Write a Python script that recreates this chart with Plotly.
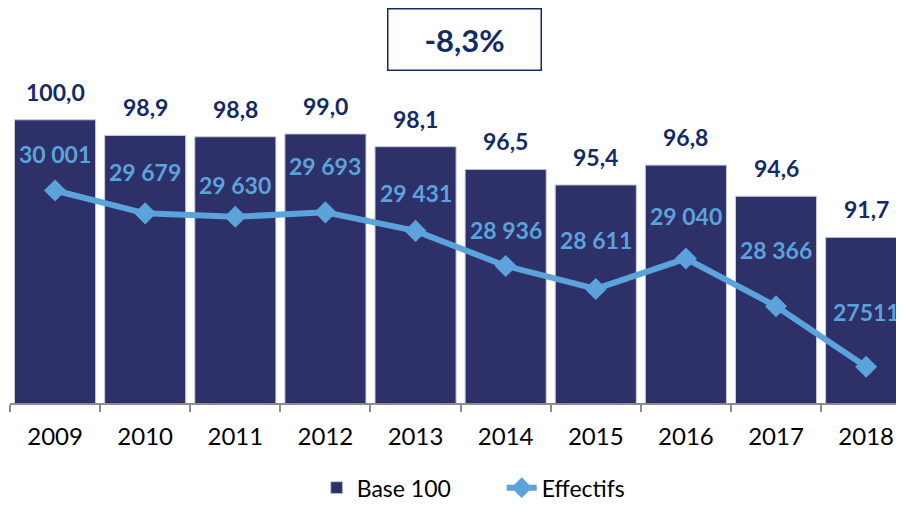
import plotly.graph_objects as go

years = ["2009", "2010", "2011", "2012", "2013", "2014", "2015", "2016", "2017", "2018"]
base100 = [100.0, 98.9, 98.8, 99.0, 98.1, 96.5, 95.4, 96.8, 94.6, 91.7]
effectifs = [30001, 29679, 29630, 29693, 29431, 28936, 28611, 29040, 28366, 27511]
effectifs_labels = ["30 001", "29 679", "29 630", "29 693", "29 431", "28 936", "28 611", "29 040", "28 366", "27511"]
variation = "-8,3%"

# label offsets above the line points (px), as placed in the original
label_shift = [37, 41, 32, 46, 38, 36, 49, 43, 56, 55]

NAVY = "#2D3069"
LABEL_NAVY = "#132A66"
LIGHT = "#5BA3DA"
FONT = "Lato"

fig = go.Figure()
fig.add_trace(go.Bar(x=years, y=base100, name="Base 100",
                     marker=dict(color=NAVY, line=dict(color="#C9CCD8", width=1)),
                     yaxis="y"))
fig.add_trace(go.Scatter(x=years, y=effectifs, name="Effectifs", mode="lines+markers",
                         line=dict(color=LIGHT, width=6),
                         marker=dict(symbol="diamond", size=17, color=LIGHT),
                         yaxis="y2"))

# category axis: annotations are placed by category index (years look numeric)
ann = []
for i, v in enumerate(base100):
    ann.append(dict(x=i, y=v, xref="x", yref="y", text=f"{v:.1f}".replace(".", ","),
                    showarrow=False, yanchor="bottom", yshift=12,
                    font=dict(family=FONT, size=23, color=LABEL_NAVY, weight="bold")))
for i, (v, t, s) in enumerate(zip(effectifs, effectifs_labels, label_shift)):
    ann.append(dict(x=i, y=v, xref="x", yref="y2", text=t,
                    showarrow=False, yanchor="middle", yshift=s,
                    font=dict(family=FONT, size=23, color=LIGHT, weight="bold")))
ann.append(dict(x=0.508, y=1.028, xref="paper", yref="paper", text=variation,
                showarrow=False, xanchor="center", yanchor="middle",
                width=150, height=58, bordercolor="#132A66", borderwidth=1.5,
                bgcolor="white",
                font=dict(family=FONT, size=31, color=LABEL_NAVY, weight="bold")))

hidden = dict(showgrid=False, zeroline=False, showline=False, showticklabels=False, ticks="")

# page body has an 8px default margin, so the figure is sized to fit the window
fig.update_layout(
    width=896, height=498,
    margin=dict(l=2, r=0, t=41, b=103, autoexpand=False),
    paper_bgcolor="white", plot_bgcolor="white",
    bargap=0.1,
    showlegend=True,
    legend=dict(orientation="h", x=0.55, xanchor="center", y=-0.30, yanchor="bottom",
                entrywidth=140, entrywidthmode="pixels",
                font=dict(family=FONT, size=23, color="black")),
    xaxis=dict(type="category", range=[-0.5, 9.42], showline=True, linecolor="#8C8C8C",
               linewidth=1.5, ticks="outside", tickson="boundaries", ticklen=7,
               tickcolor="#8C8C8C", tickwidth=1.5, showgrid=False, ticklabelstandoff=11,
               tickfont=dict(family=FONT, size=24, color="black")),
    yaxis=dict(range=[80, 105], **hidden),
    yaxis2=dict(range=[27000, 32000], overlaying="y", **hidden),
    annotations=ann,
)

fig.write_html("out.html")
